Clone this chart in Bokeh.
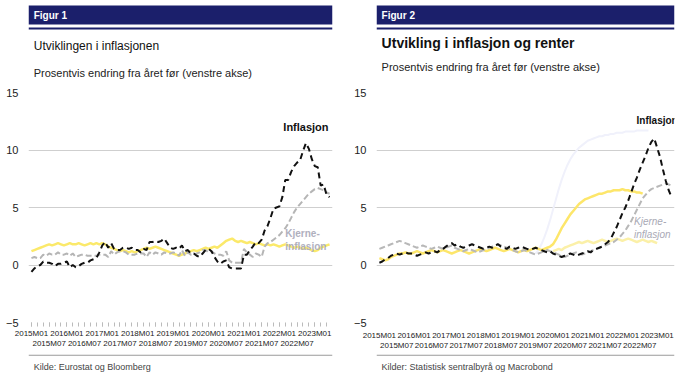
from bokeh.plotting import figure
from bokeh.models import Label, BoxAnnotation, FixedTicker, Range1d
from bokeh.layouts import row, column
from bokeh.embed import file_html
from bokeh.resources import INLINE

nan = float("nan")

# ---- data -------------------------------------------------------------
months = [f"{y}M{m:02d}" for y in range(2015, 2024) for m in range(1, 13)][:102]
tick_labels = ["2015M01", "2015M07", "2016M01", "2016M07", "2017M01", "2017M07",
               "2018M01", "2018M07", "2019M01", "2019M07", "2020M01", "2020M07",
               "2021M01", "2021M07", "2022M01", "2022M07", "2023M01"]

left_inflasjon = [
    -0.6, -0.3, -0.1, 0.0, 0.3, 0.2, 0.2, 0.1, -0.1, 0.1, 0.1, 0.2,
    0.3, -0.2, 0.0, -0.2, -0.1, 0.1, 0.2, 0.2, 0.4, 0.5, 0.6, 1.1,
    1.7, 2.0, 1.5, 1.9, 1.4, 1.3, 1.3, 1.5, 1.5, 1.4, 1.5, 1.3,
    1.3, 1.1, 1.4, 1.3, 2.0, 2.0, 2.1, 2.0, 2.1, 2.3, 1.9, 1.5,
    1.4, 1.5, 1.4, 1.7, 1.2, 1.3, 1.0, 1.0, 0.8, 0.7, 1.0, 1.3,
    1.4, 1.2, 0.7, 0.3, 0.1, 0.3, 0.4, -0.2, -0.3, -0.3, -0.3, -0.3,
    0.9, 0.9, 1.3, 1.6, 2.0, 1.9, 2.2, 3.0, 3.4, 4.1, 4.9, 5.0,
    5.1, 5.9, 7.4, 7.4, 8.1, 8.6, 8.9, 9.1, 9.9, 10.6, 10.1, 9.2,
    8.6, 8.5, 6.9, 7.0, 6.1, 5.9]
left_kjerne = [
    0.6, 0.7, 0.6, 0.6, 0.9, 0.8, 1.0, 0.9, 0.9, 1.1, 0.9, 0.9,
    1.0, 0.8, 1.0, 0.7, 0.8, 0.9, 0.9, 0.8, 0.8, 0.8, 0.8, 0.9,
    0.9, 0.9, 0.7, 1.2, 0.9, 1.1, 1.2, 1.2, 1.1, 0.9, 0.9, 0.9,
    1.0, 1.0, 1.0, 0.7, 1.1, 0.9, 1.1, 1.0, 0.9, 1.1, 1.0, 1.0,
    1.1, 1.0, 0.8, 1.3, 0.8, 1.1, 0.9, 0.9, 1.0, 1.1, 1.3, 1.3,
    1.1, 1.2, 1.0, 0.9, 0.9, 0.8, 1.2, 0.4, 0.2, 0.2, 0.2, 0.2,
    1.4, 1.1, 0.9, 0.7, 1.0, 0.9, 0.7, 1.6, 1.9, 2.0, 2.2, 2.4,
    2.6, 2.9, 3.2, 3.6, 4.1, 4.6, 5.0, 5.3, 5.6, 5.9, 6.2, 6.4,
    6.6, 6.7, 6.6, 6.5, 6.3, 6.2]
left_gul = [
    1.2, 1.3, 1.4, 1.5, 1.6, 1.7, 1.8, 1.7, 1.8, 1.9, 1.8, 1.7,
    1.8, 1.9, 1.8, 1.8, 1.9, 1.8, 1.7, 1.8, 1.9, 1.8, 1.9, 1.8,
    1.9, 1.8, 1.6, 1.5, 1.4, 1.3, 1.2, 1.3, 1.2, 1.1, 1.2, 1.1,
    1.2, 1.3, 1.4, 1.5, 1.4, 1.5, 1.6, 1.5, 1.4, 1.3, 1.2, 1.1,
    1.0, 0.9, 0.8, 0.9, 1.0, 1.1, 1.2, 1.3, 1.2, 1.3, 1.4, 1.5,
    1.4, 1.5, 1.6, 1.5, 1.7, 1.9, 2.1, 2.2, 2.3, 2.1, 2.0, 2.1,
    2.0, 1.9, 2.0, 1.9, 1.8, 1.9, 1.8, 1.7, 1.8, 1.7, 1.8, 1.7,
    1.6, 1.7, 1.8, 1.7, 1.6, 1.5, 1.6, 1.5, 1.4, 1.5, 1.4, 1.3,
    1.2, 1.3, 1.5, 1.6, 1.7, 1.8]

right_inflasjon = [
    0.2, 0.3, 0.5, 0.6, 0.8, 0.9, 1.0, 0.9, 1.0, 1.1, 1.0, 1.0,
    0.9, 0.8, 0.9, 1.0, 1.1, 1.0, 1.1, 1.2, 1.1, 1.3, 1.4, 1.6,
    1.8, 1.9, 1.7, 1.8, 1.6, 1.5, 1.6, 1.7, 1.8, 1.7, 1.6, 1.5,
    1.4, 1.5, 1.6, 1.5, 1.7, 1.8, 1.6, 1.5, 1.4, 1.6, 1.5, 1.4,
    1.5, 1.6, 1.5, 1.4, 1.3, 1.4, 1.5, 1.4, 1.3, 1.2, 1.1, 1.2,
    1.0, 0.9, 0.8, 0.7, 0.8, 0.9, 1.0, 0.9, 0.8, 0.9, 1.0, 1.1,
    1.2, 1.1, 1.3, 1.4, 1.5, 1.6, 1.8, 2.0, 2.3, 2.8, 3.3, 3.9,
    4.5, 5.0, 5.6, 6.3, 7.0, 7.6, 8.3, 8.9, 9.5, 10.2, 10.7, 11.0,
    10.2, 9.4, 8.3, 7.3, 6.5, 5.9]
right_kjerne = [
    1.4, 1.5, 1.6, 1.7, 1.8, 1.9, 2.0, 2.1, 2.0, 1.9, 1.8, 1.7,
    1.6, 1.5, 1.6, 1.7, 1.6, 1.5, 1.4, 1.5, 1.6, 1.5, 1.4, 1.5,
    1.6, 1.7, 1.5, 1.4, 1.3, 1.2, 1.3, 1.4, 1.3, 1.2, 1.1, 1.2,
    1.3, 1.4, 1.5, 1.6, 1.7, 1.8, 1.7, 1.6, 1.5, 1.4, 1.3, 1.2,
    1.1, 1.2, 1.3, 1.2, 1.1, 1.0, 0.9, 1.0, 1.1, 1.2, 1.3, 1.2,
    1.1, 1.0, 0.9, 0.8, 0.7, 0.8, 0.9, 1.0, 1.1, 1.0, 0.9, 1.0,
    1.1, 1.2, 1.3, 1.4, 1.5, 1.6, 1.7, 1.8, 1.9, 2.0, 2.2, 2.4,
    2.7, 3.0, 3.4, 3.8, 4.3, 4.8, 5.3, 5.8, 6.1, 6.4, 6.6, 6.7,
    6.8, 6.9, 7.0, 7.1, 7.0, 6.9]
right_gul = [
    0.6, 0.5, 0.4, 0.5, 0.7, 0.8, 0.9, 1.0, 1.0, 1.1, 1.0, 1.0,
    1.1, 1.2, 1.1, 1.0, 1.1, 1.2, 1.3, 1.2, 1.1, 1.2, 1.3, 1.2,
    1.1, 1.0, 1.1, 1.2, 1.3, 1.2, 1.1, 1.0, 1.1, 1.2, 1.3, 1.4,
    1.3, 1.2, 1.3, 1.4, 1.5, 1.4, 1.3, 1.2, 1.3, 1.4, 1.3, 1.2,
    1.1, 1.2, 1.3, 1.2, 1.3, 1.4, 1.5, 1.4, 1.3, 1.4, 1.5, 1.6,
    1.8, 2.2, 2.7, 3.2, 3.6, 4.0, 4.4, 4.7, 5.0, 5.3, 5.5, 5.7,
    5.8, 5.9, 6.0, 6.1, 6.2, 6.2, 6.3, 6.4, 6.4, 6.5, 6.5, 6.5,
    6.6, 6.5, 6.5, 6.4, 6.4, 6.3, 6.3, 6.2, nan, nan, nan, nan,
    nan, nan, nan, nan, nan, nan]
right_lysgul = [nan] * 60 + [
    1.2, 1.3, 1.4, 1.3, 1.5, 1.6, 1.7, 1.8, 1.9, 2.0, 1.9, 2.0,
    2.1, 2.0, 1.9, 2.0, 2.1, 2.2, 2.1, 2.0, 2.1, 2.2, 2.3, 2.2,
    2.1, 2.2, 2.3, 2.2, 2.1, 2.0, 2.1, 2.2, 2.1, 2.0, 2.1, 2.0,
    1.9, nan, nan, nan, nan, nan]
right_lilla = [nan] * 54 + [
    1.0, 1.3, 1.8, 2.4, 3.1, 3.9, 4.8, 5.7, 6.6, 7.4, 8.1, 8.7,
    9.2, 9.6, 9.9, 10.2, 10.4, 10.6, 10.8, 10.9, 11.0, 11.1, 11.2, 11.2,
    11.3, 11.3, 11.4, 11.4, 11.5, 11.5, 11.5, 11.6, 11.6, 11.6, 11.6, 11.7,
    11.7, 11.7, 11.7, 11.7] + [nan] * 8

NAVY = "#1b1f6b"
FONT = "Liberation Sans"
W = 350
TOP_H = 84
MAIN_H = 270
FOOT_H = 23


def bare(height):
    f = figure(width=W, height=height, output_backend="svg", toolbar_location=None,
               x_axis_location=None, y_axis_location=None,
               x_range=Range1d(0, W), y_range=Range1d(height, 0),
               min_border=0, min_border_left=0, min_border_right=0,
               min_border_top=0, min_border_bottom=0)
    f.grid.visible = False
    f.outline_line_color = None
    f.background_fill_color = "white"
    f.border_fill_color = "white"
    return f


def txt(f, x, y, text, size="11px", style="normal", color="#222222"):
    f.add_layout(Label(x=x, y=y, text=text, text_font=FONT, text_font_size=size,
                       text_font_style=style, text_color=color,
                       text_align="left", text_baseline="middle"))


def panel(fig_no, title, subtitle, source, series, labels, left_border,
          title_size, title_style, title_y, sub_y, minor):
    # header: navy band, figure number, title, subtitle
    top = bare(TOP_H)
    top.add_layout(BoxAnnotation(left=0, right=W, top=5, bottom=24,
                                 fill_color=NAVY, fill_alpha=1, line_color=None))
    top.add_layout(BoxAnnotation(left=0, right=W, top=27, bottom=29,
                                 fill_color=NAVY, fill_alpha=1, line_color=None))
    txt(top, 6, 14.5, fig_no, size="10px", style="bold", color="white")
    txt(top, 6, title_y, title, size=title_size, style=title_style, color="#111111")
    txt(top, 6, sub_y, subtitle, size="11px", color="#222222")

    # main chart
    x = list(range(len(months)))
    p = figure(width=W, height=MAIN_H, output_backend="svg", toolbar_location=None,
               x_range=Range1d(-1, 102), y_range=Range1d(-5, 15),
               min_border_left=left_border, min_border_right=W - left_border - 304,
               min_border_top=8, min_border_bottom=32)
    p.background_fill_color = "white"
    p.border_fill_color = "white"
    p.outline_line_color = None
    p.xgrid.visible = False
    p.ygrid.grid_line_color = "#cfcfcf"
    p.ygrid.grid_line_width = 1
    p.yaxis.ticker = FixedTicker(ticks=[-5, 0, 5, 10, 15])
    p.yaxis.axis_line_color = None
    p.yaxis.major_tick_line_color = None
    p.yaxis.minor_tick_line_color = None
    p.yaxis.major_label_text_font = FONT
    p.yaxis.major_label_text_font_size = "11px"
    p.yaxis.major_label_text_color = "#222222"
    p.yaxis.major_label_standoff = 4
    ticks = list(range(0, 102, 6))
    if minor:
        p.xaxis.ticker = FixedTicker(ticks=ticks, minor_ticks=list(range(0, 102, 2)))
        p.xaxis.major_tick_line_color = "#bbbbbb"
        p.xaxis.minor_tick_line_color = "#bbbbbb"
        p.xaxis.major_tick_out = 4
        p.xaxis.minor_tick_out = 4
        p.xaxis.major_tick_in = 0
        p.xaxis.minor_tick_in = 0
    else:
        p.xaxis.ticker = FixedTicker(ticks=ticks)
        p.xaxis.major_tick_line_color = None
        p.xaxis.minor_tick_line_color = None
    p.xaxis.axis_line_color = None
    p.xaxis.major_label_overrides = {
        t: (lab if i % 2 == 0 else "\n" + lab)
        for i, (t, lab) in enumerate(zip(ticks, tick_labels))}
    p.xaxis.major_label_text_font = FONT
    p.xaxis.major_label_text_font_size = "8px"
    p.xaxis.major_label_text_color = "#222222"
    p.xaxis.major_label_standoff = 2

    for ys, color, width, dash in series:
        p.line(x, ys, line_color=color, line_width=width, line_dash=dash)

    for lx, ly, text, color, style, size, align in labels:
        p.add_layout(Label(x=lx, y=ly, text=text, text_font=FONT, text_font_size=size,
                           text_font_style=style, text_color=color, text_align=align,
                           text_baseline="middle"))

    # footer: rule and source
    foot = bare(FOOT_H)
    foot.add_layout(BoxAnnotation(left=0, right=W, top=0, bottom=1.2,
                                  fill_color="#9a9a9a", fill_alpha=1, line_color=None))
    txt(foot, 6, 12, source, size="9px", color="#444444")
    return column(top, p, foot, spacing=0)


left = panel(
    "Figur 1", "Utviklingen i inflasjonen",
    "Prosentvis endring fra året før (venstre akse)",
    "Kilde: Eurostat og Bloomberg",
    [(left_gul, "#fbe96a", 2.5, "solid"),
     (left_kjerne, "#b5b5b5", 2, "6 3"),
     (left_inflasjon, "#111111", 2, "6 4")],
    [(93, 12.0, "Inflasjon", "#111111", "bold", "11px", "center"),
     (86, 2.2, "Kjerne-\ninflasjon", "#b0b0be", "bold", "10px", "left")],
    28, "12px", "normal", 45, 72, True)

right = panel(
    "Figur 2", "Utvikling i inflasjon og renter",
    "Prosentvis endring fra året før (venstre akse)",
    "Kilder: Statistisk sentralbyrå og Macrobond",
    [(right_lilla, "#f0f1fb", 2, "solid"),
     (right_lysgul, "#fbf0a8", 2.5, "solid"),
     (right_gul, "#fde66a", 2.5, "solid"),
     (right_kjerne, "#b8b8b8", 2, "6 3"),
     (right_inflasjon, "#111111", 2, "6 4")],
    [(96, 12.6, "Inflasjon", "#111111", "bold", "10px", "center"),
     (88, 3.2, "Kjerne-\ninflasjon", "#a9a9b5", "italic", "10px", "left")],
    20, "14px", "bold", 42, 66, False)

layout = row(left, right, spacing=0)
open("out.html", "w").write(file_html(layout, INLINE))
